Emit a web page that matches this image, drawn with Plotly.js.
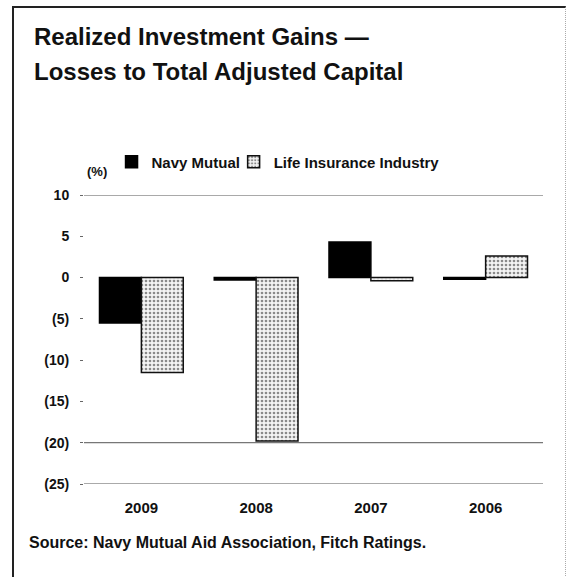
<!DOCTYPE html>
<html>
<head>
<meta charset="utf-8">
<script src="https://cdn.plot.ly/plotly-3.0.1.min.js"></script>
<style>
  html, body { margin: 0; padding: 0; background: #fff; }
  #wrap { position: relative; width: 566px; height: 577px; overflow: hidden; }
  #frame { position: absolute; left: 12px; top: 6px; width: 551px; height: 580px;
           border-left: 2px solid #222; border-top: 2px solid #222; border-right: 1px dotted #aaa; }
  #chart { position: absolute; left: 0; top: 0; width: 566px; height: 577px; }
</style>
</head>
<body>
<div id="wrap">
  <div id="frame"></div>
  <div id="chart"></div>
</div>
<script>
// ---- data ----
const years = ["2009", "2008", "2007", "2006"];
const navyMutual = [-5.5, -0.3, 4.3, -0.2];
const lifeIndustry = [-11.5, -19.8, -0.4, 2.6];
const yTickVals = [10, 5, 0, -5, -10, -15, -20, -25];
const yTickText = ["10", "5", "0", "(5)", "(10)", "(15)", "(20)", "(25)"];
const refLines = [10, -20, -25];
const seriesNames = ["Navy Mutual", "Life Insurance Industry"];
const titleLines = ["Realized Investment Gains \u2014", "Losses to Total Adjusted Capital"];
const unitLabel = "(%)";
const sourceText = "Source: Navy Mutual Aid Association, Fitch Ratings.";

const FONT = "Liberation Sans, Arial, sans-serif";

const traces = [
  {
    type: "bar", name: seriesNames[0], x: years, y: navyMutual, legend: "legend",
    marker: { color: "#000", line: { color: "#000", width: 1.5 } },
    hoverinfo: "skip"
  },
  {
    type: "bar", name: seriesNames[1], x: years, y: lifeIndustry, legend: "legend2",
    marker: {
      color: "#f4f4f4",
      line: { color: "#111", width: 1.5 },
      pattern: { shape: ".", fgcolor: "#8a8a8a", bgcolor: "#f4f4f4", size: 4, solidity: 0.35 }
    },
    hoverinfo: "skip"
  }
];

const shapes = refLines.map(v => ({
  type: "line", xref: "paper", yref: "y", x0: 0, x1: 1, y0: v, y1: v,
  line: { color: "#555", width: 1 }, layer: "below"
}));

const annotations = [
  { text: "<b>" + titleLines[0] + "</b>", xref: "paper", yref: "paper", x: -0.113, y: 1.550,
    xanchor: "left", yanchor: "middle", showarrow: false, font: { family: FONT, size: 24, color: "#111" } },
  { text: "<b>" + titleLines[1] + "</b>", xref: "paper", yref: "paper", x: -0.113, y: 1.429,
    xanchor: "left", yanchor: "middle", showarrow: false, font: { family: FONT, size: 24, color: "#111" } },
  { text: "<b>" + unitLabel + "</b>", xref: "paper", yref: "paper", x: 0.028, y: 1.08,
    xanchor: "center", yanchor: "middle", showarrow: false, font: { family: FONT, size: 13, color: "#111" } },
  { text: "<b>" + sourceText + "</b>", xref: "paper", yref: "paper", x: -0.124, y: -0.203,
    xanchor: "left", yanchor: "middle", showarrow: false, font: { family: FONT, size: 16, color: "#111" } }
];

const legendFont = { family: FONT, size: 15, color: "#111", weight: "bold" };

const layout = {
  width: 566, height: 577,
  margin: { l: 84, r: 23, t: 195, b: 93 },
  paper_bgcolor: "rgba(0,0,0,0)", plot_bgcolor: "rgba(0,0,0,0)",
  barmode: "group", bargap: 0.27, bargroupgap: 0,
  showlegend: true,
  legend: {
    orientation: "h", x: 0.06, y: 1.114, xanchor: "left", yanchor: "middle",
    font: legendFont, itemclick: false
  },
  legend2: {
    orientation: "h", x: 0.326, y: 1.114, xanchor: "left", yanchor: "middle",
    font: legendFont, itemclick: false
  },
  xaxis: {
    type: "category", showgrid: false, zeroline: false, showline: false,
    ticks: "outside", ticklen: 10, tickcolor: "rgba(0,0,0,0)",
    tickfont: { family: FONT, size: 15, color: "#111", weight: "bold" }
  },
  yaxis: {
    range: [-25, 10], tickvals: yTickVals, ticktext: yTickText,
    showgrid: false, zeroline: false, showline: false,
    ticks: "outside", ticklen: 3, tickcolor: "#666", ticklabelstandoff: 8,
    tickfont: { family: FONT, size: 14, color: "#111", weight: "bold" }
  },
  shapes: shapes,
  annotations: annotations
};

Plotly.newPlot("chart", traces, layout, { displayModeBar: false, staticPlot: true });
</script>
</body>
</html>
